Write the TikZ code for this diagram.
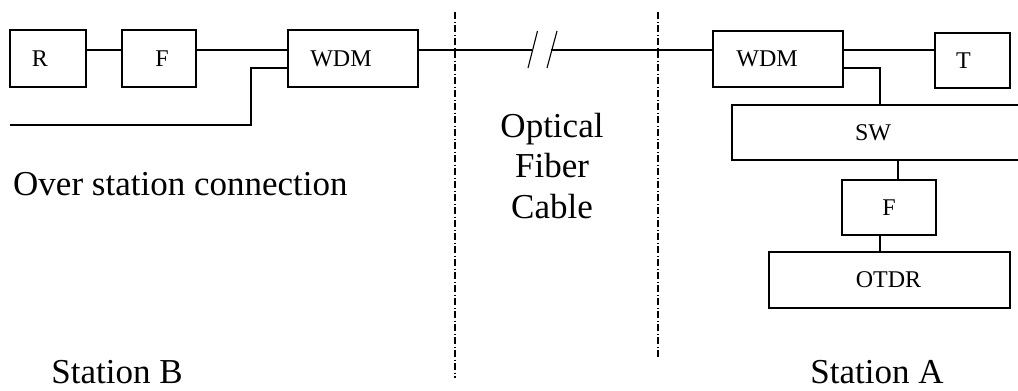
\documentclass[tikz,border=0pt]{standalone}
\usepackage{fontspec}
\setmainfont{Liberation Serif}
\begin{document}
\begin{tikzpicture}[x=1pt,y=-1pt,
  blk/.style={draw,line width=1.6pt,inner sep=0pt,font=\fontsize{24}{28}\selectfont},
  wire/.style={line width=1.6pt},
  fiber/.style={line width=1.1pt},
  sep/.style={line width=1.4pt,dash pattern=on 7pt off 2.5pt on 1pt off 2.5pt},
  big/.style={font=\fontsize{35}{41}\selectfont,inner sep=0pt}]
\clip (0,0) rectangle (1018,391);
\useasboundingbox (0,0) rectangle (1018,391);
% Station B
\node[blk,minimum width=76pt,minimum height=57pt,label={[xshift=-8pt,font=\fontsize{24}{28}\selectfont]center:R}] (rB) at (48,58.5) {};
\node[blk,minimum width=74pt,minimum height=57pt,label={[xshift=3pt,font=\fontsize{24}{28}\selectfont]center:F}] (fB) at (159,58.5) {};
\node[blk,minimum width=130pt,minimum height=57pt,label={[xshift=-12pt,font=\fontsize{24}{28}\selectfont]center:WDM}] (wB) at (353,58.5) {};
\draw[wire] (rB.east |- 0,50) -- (fB.west |- 0,50);
\draw[wire] (fB.east |- 0,50) -- (wB.west |- 0,50);
\coordinate (osc) at (10,125);
\draw[wire] (wB.west |- 0,68) -- (251,68) -- (251,125) -- (osc);
% Station A
\node[blk,minimum width=130pt,minimum height=56pt,label={[xshift=-11pt,font=\fontsize{24}{28}\selectfont]center:WDM}] (wA) at (778,59) {};
\node[blk,minimum width=75pt,minimum height=55pt,label={[xshift=-9pt,font=\fontsize{24}{28}\selectfont]center:T}] (tA) at (972.5,60.5) {};
\node[blk,minimum width=292pt,minimum height=55pt,label={[xshift=-5pt,font=\fontsize{24}{28}\selectfont]center:SW}] (sw) at (878,132.5) {};
\node[blk,minimum width=94pt,minimum height=55pt,label={[font=\fontsize{24}{28}\selectfont]center:F}] (fA) at (889,207.5) {};
\node[blk,minimum width=241pt,minimum height=56pt,label={[xshift=-1pt,font=\fontsize{24}{28}\selectfont]center:OTDR}] (otdr) at (889.5,280) {};
\draw[wire] (wA.east |- 0,50) -- (tA.west |- 0,50);
\draw[wire] (wA.east |- 0,68) -- (880,68) -- (880,0 |- sw.north);
\draw[wire] (898,0 |- sw.south) -- (898,0 |- fA.north);
\draw[wire] (880,0 |- fA.south) -- (880,0 |- otdr.north);
% fiber
\coordinate (brk1) at (532,50);
\coordinate (brk2) at (551,50);
\draw[fiber] (wB.east |- 0,50) -- (brk1);
\draw[fiber] (brk2) -- (wA.west |- 0,50);
\draw[fiber] (528,68) -- (537.5,31);
\draw[fiber] (547,68) -- (557,31);
% separators
\coordinate (s1t) at (455,12); \coordinate (s1b) at (455,378);
\coordinate (s2t) at (658,12); \coordinate (s2b) at (658,358);
\draw[sep] (s1t) -- (s1b);
\draw[sep] (s2t) -- (s2b);
% texts
\node[big,anchor=base] (t1) at (552,137) {Optical};
\node[big,anchor=base] (t2) at (552,177.5) {Fiber};
\node[big,anchor=base] (t3) at (552,218) {Cable};
\node[big,anchor=base west] (osct) at (13,195) {Over station connection};
\node[big,anchor=base] (stB) at (117,383) {Station B};
\node[big,anchor=base] (stA) at (877,383) {Station A};
\end{tikzpicture}
\end{document}
